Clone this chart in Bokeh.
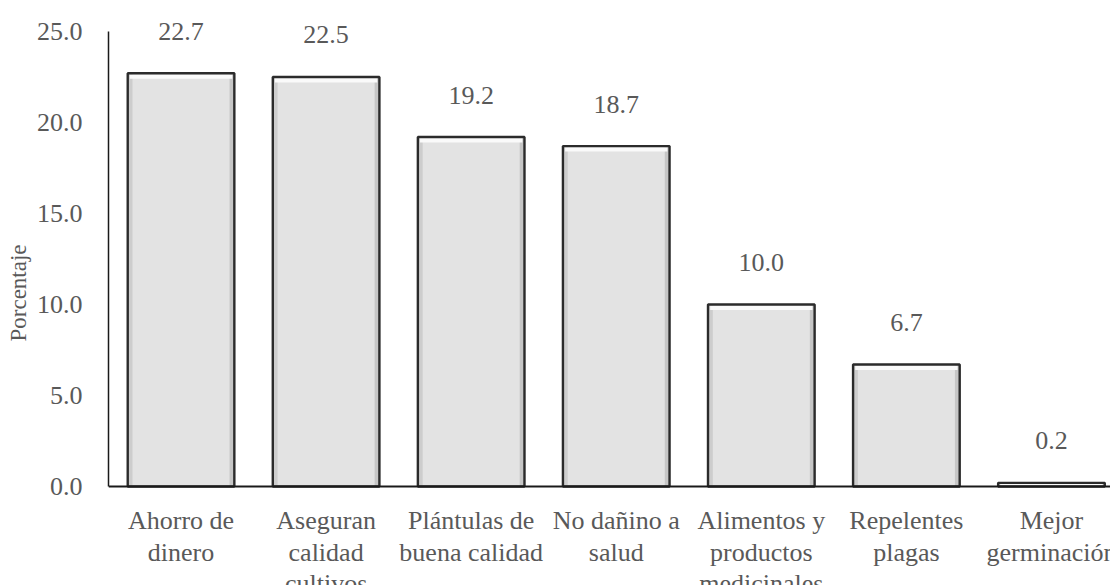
from bokeh.plotting import figure
from bokeh.models import Range1d, FixedTicker, NumeralTickFormatter, ColumnDataSource, Span
from bokeh.core.properties import value
from bokeh.embed import file_html
from bokeh.resources import INLINE

# Razones para usar semillas propias (porcentaje de respuestas)
categorias = [
    "Ahorro de\ndinero",
    "Aseguran\ncalidad\ncultivos",
    "Plántulas de\nbuena calidad",
    "No dañino a\nsalud",
    "Alimentos y\nproductos\nmedicinales",
    "Repelentes\nplagas",
    "Mejor\ngerminación",
]
porcentajes = [22.7, 22.5, 19.2, 18.7, 10.0, 6.7, 0.2]
ticks_y = [0.0, 5.0, 10.0, 15.0, 20.0, 25.0]

FONT = "Liberation Serif"
GRIS = "#595959"
ANCHO = 0.735  # ancho de barra en unidades de categoría

x = list(range(len(categorias)))
src = ColumnDataSource(dict(
    x=x,
    top=porcentajes,
    cero=[0.0] * len(x),
    etiqueta=[f"{v:.1f}" for v in porcentajes],
    categoria=categorias,
    brillo_top=[v - 0.06 for v in porcentajes],
    brillo_bottom=[max(v - 0.30, 0.0) for v in porcentajes],
    x_izq=[i - ANCHO / 2 + 0.018 for i in x],
    x_der=[i + ANCHO / 2 - 0.018 for i in x],
))

# El marco llega hasta el borde inferior para que los nombres de categoría
# (debajo de y = 0) se dibujen dentro de él.
p = figure(
    width=1110, height=585,
    x_range=Range1d(-0.5, 6.407),
    y_range=Range1d(-5.44, 26.70),
    output_backend="svg", toolbar_location=None,
    min_border_left=108, min_border_right=0,
    min_border_top=0, min_border_bottom=0,
)
p.outline_line_color = None
p.xgrid.grid_line_color = None
p.ygrid.grid_line_color = None
p.background_fill_color = "white"
p.border_fill_color = "white"
p.xaxis.visible = False

# Barras: relleno gris claro con bisel (sombra lateral, brillo superior) y contorno oscuro
p.vbar(x="x", top="top", bottom=0, width=ANCHO, source=src,
       fill_color="#e3e3e3", line_color=None)
p.vbar(x="x_izq", top="top", bottom=0, width=0.03, source=src,
       fill_color="#cdcdcd", line_color=None)
p.vbar(x="x_der", top="top", bottom=0, width=0.03, source=src,
       fill_color="#c6c6c6", line_color=None)
p.vbar(x="x", top="brillo_top", bottom="brillo_bottom", width=ANCHO - 0.03, source=src,
       fill_color="#fafafa", line_color=None)
p.vbar(x="x", top="top", bottom=0, width=ANCHO, source=src,
       fill_color=None, line_color="#2b2b2b", line_width=2.4)

# Línea del eje horizontal en y = 0
p.add_layout(Span(location=0, dimension="width", line_color="#1a1a1a", line_width=2))

# Etiquetas de valor
p.text(x="x", y="top", text="etiqueta", source=src,
       y_offset=-42, text_align="center", text_baseline="middle",
       text_font=value(FONT), text_font_size="26px", text_color=GRIS)

# Nombres de categoría bajo el eje
p.text(x="x", y="cero", text="categoria", source=src,
       y_offset=20, text_align="center", text_baseline="top",
       text_font=value(FONT), text_font_size="26px", text_color=GRIS,
       text_line_height=1.08)

# Eje Y
ya = p.yaxis[0]
ya.ticker = FixedTicker(ticks=ticks_y)
ya.formatter = NumeralTickFormatter(format="0.0")
ya.bounds = (0, 25)
ya.major_tick_line_color = None
ya.minor_tick_line_color = None
ya.axis_line_color = "#1a1a1a"
ya.axis_line_width = 1.5
ya.major_label_standoff = 20
ya.major_label_text_font = FONT
ya.major_label_text_font_size = "26px"
ya.major_label_text_color = GRIS
ya.axis_label = "Porcentaje"
ya.axis_label_text_font = FONT
ya.axis_label_text_font_size = "23px"
ya.axis_label_text_font_style = "normal"
ya.axis_label_text_color = GRIS
ya.axis_label_standoff = 3

open("out.html", "w").write(file_html(p, INLINE))
